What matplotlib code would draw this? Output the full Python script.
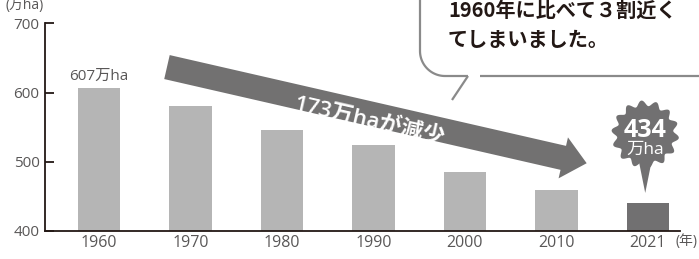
import numpy as np
import matplotlib
matplotlib.use("Agg")
import matplotlib.pyplot as plt
from matplotlib.patches import Polygon
from matplotlib.lines import Line2D

plt.rcParams["font.family"] = ["Open Sans", "Noto Sans CJK JP", "DejaVu Sans"]
cjk = ["Noto Sans CJK JP", "DejaVu Sans"]

years = ["1960", "1970", "1980", "1990", "2000", "2010", "2021"]
area = [607, 580, 546, 524, 485, 459, 440]
yticks = [400, 500, 600, 700]

light = "#b5b5b5"
dark = "#717071"
txt_gray = "#595757"
ink = "#231815"

W, H = 699, 259
fig = plt.figure(figsize=(W / 100, H / 100), dpi=100)
ax = fig.add_axes([45 / W, 28 / H, 635 / W, 207.5 / H])

x = np.arange(len(years))
colors = [light] * (len(years) - 1) + [dark]
ax.bar(x, area, width=0.46, color=colors, zorder=2)

ax.set_xlim(-0.59, 6.35)
ax.set_ylim(400, 700)
ax.set_yticks(yticks)
ax.set_xticks(x)
ax.set_xticklabels(years)
for s in ["top", "right"]:
    ax.spines[s].set_visible(False)
for s in ["left", "bottom"]:
    ax.spines[s].set_color(ink)
    ax.spines[s].set_linewidth(1.3)
ax.tick_params(axis="y", direction="in", length=6.5, width=1.3, color=ink,
               labelsize=11, labelcolor=txt_gray, pad=4)
ax.tick_params(axis="x", length=0, labelsize=11.5, labelcolor=txt_gray, pad=3)

# value label on first bar
ax.annotate(f"{area[0]}万ha", (x[0], area[0]), xytext=(0, 3),
            textcoords="offset points", ha="center", va="bottom",
            fontsize=11, color=txt_gray)

# unit labels
fig.text(5 / W, 1 - 6 / H, "(万ha)", fontsize=10, color=txt_gray,
         ha="left", va="center")
fig.text(698 / W, 1 - 242 / H, "(年)", fontsize=10, color=txt_gray,
         ha="right", va="center")

fig.canvas.draw()
tr = ax.transData

# big arrow (display coords)
p0 = tr.transform((0.743, 637))
p1 = tr.transform((5.33, 498))
d = p1 - p0
L = np.hypot(*d)
u = d / L
n = np.array([-u[1], u[0]])
bw, hw, hl = 12.3, 21, 24
base = p1 - u * hl
pts = [p0 + n * bw, base + n * bw, base + n * hw, p1,
       base - n * hw, base - n * bw, p0 - n * bw]
ax.add_patch(Polygon(pts, closed=True, transform=None, facecolor="#727171",
                     edgecolor="none", zorder=3, clip_on=False))
ang = np.degrees(np.arctan2(d[1], d[0]))
t = (371 - p0[0]) / d[0]
tp = p0 + t * d - n * 8
fig.text(tp[0] / W, tp[1] / H, "173万haが減少", rotation=ang,
         rotation_mode="anchor", ha="center", va="center", fontsize=16,
         fontweight="semibold", color="white", zorder=4)

# badge on 2021
c = tr.transform((x[-1] - 0.03, 540))
tip = tr.transform((x[-1] - 0.03, 455))
th = np.linspace(0, 2 * np.pi, 400)
r = 31 + 2.8 * np.cos(14 * th + np.pi / 2)
badge = np.column_stack([c[0] + r * np.cos(th), c[1] + r * np.sin(th)])
ax.add_patch(Polygon(badge, closed=True, transform=None, facecolor=dark,
                     edgecolor="none", zorder=3, clip_on=False))
tail = [(c[0] - 7, c[1] - 24), (c[0] + 7, c[1] - 24), (tip[0], tip[1])]
ax.add_patch(Polygon(tail, closed=True, transform=None, facecolor=dark,
                     edgecolor="none", zorder=3, clip_on=False))
fig.text(c[0] / W, (c[1] + 4) / H, "434", fontsize=18, fontweight="bold",
         color="white", ha="center", va="center")
fig.text(c[0] / W, (c[1] - 16) / H, "万ha", fontsize=12.5,
         color="white", ha="center", va="center")

# speech bubble (figure pixel coords, y down)
def px(xs, ys):
    return [v / W for v in xs], [1 - v / H for v in ys]

bc = "#8a8a8a"
cx0, cy0, rr = 445, 51, 25
a = np.linspace(0, np.pi / 2, 30)
left_x = [420] + list(cx0 - rr * np.cos(a)) + [468]
left_y = [-5] + list(cy0 + rr * np.sin(a)) + [76]
for xs, ys in [(left_x, left_y), ([468, 452], [76, 100]), ([480, 710], [76, 76])]:
    fx, fy = px(xs, ys)
    fig.add_artist(Line2D(fx, fy, color=bc, linewidth=1.6,
                          solid_capstyle="butt"))

fig.text(448 / W, 1 - 10 / H, "1960年に比べて３割近く", fontsize=14.5,
         fontweight="bold", color=ink, ha="left", va="center", family=cjk)
fig.text(448 / W, 1 - 40 / H, "てしまいました。", fontsize=14.5,
         fontweight="bold", color=ink, ha="left", va="center", family=cjk)

fig.savefig("out.png", dpi=100)
